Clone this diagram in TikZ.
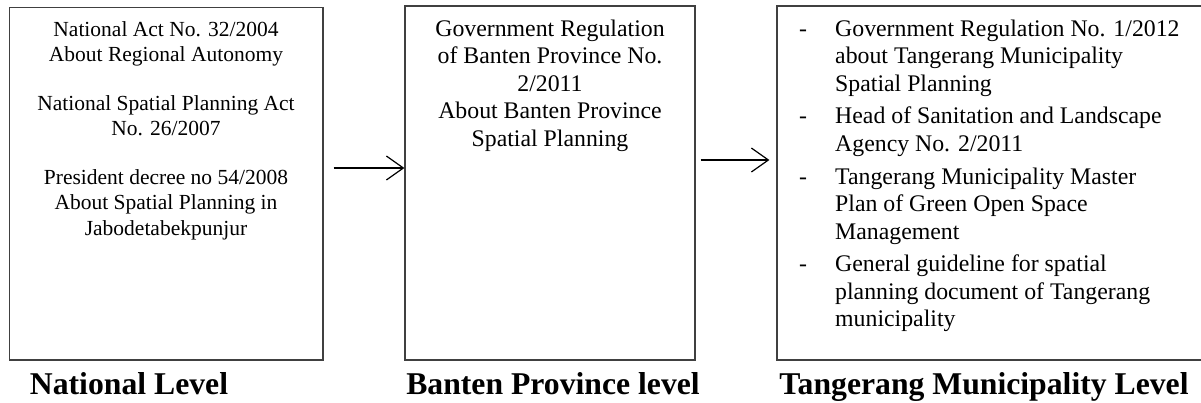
\documentclass[tikz,border=0pt]{standalone}
\usepackage{fontspec}
\setmainfont{Liberation Serif}
\usetikzlibrary{arrows.meta}
\begin{document}
\begin{tikzpicture}[x=1pt,y=1pt,
  levelbox/.style={draw=black!75, line width=1.2pt, inner sep=0pt, rectangle},
  boxtext/.style={inner sep=0pt, anchor=base},
  smalltext/.style={font=\fontsize{21.5}{25.7}\selectfont},
  bodytext/.style={font=\fontsize{23.8}{27.5}\selectfont},
  leveltitle/.style={inner sep=0pt, anchor=base, font=\fontsize{31.7}{36}\selectfont\bfseries},
  flow/.style={draw=black, line width=1.2pt, -{Straight Barb[length=17pt,width=24pt,line width=1.2pt]}}]
\useasboundingbox (0,0) rectangle (1201,-402);

% the three level boxes
\node[levelbox, minimum width=313.5pt, minimum height=352.5pt] (national) at (166.25,-183.75) {};
\node[levelbox, minimum width=290pt, minimum height=354pt] (province) at (550,-183) {};
\node[levelbox, minimum width=430pt, minimum height=354pt] (municipal) at (992,-183) {};

% national regulations
\node[boxtext, smalltext] (nattext) at (166,-36)
  {\begin{tabular}[t]{@{}c@{}}
   National Act No. 32/2004\\About Regional Autonomy\\[22.6pt]
   National Spatial Planning Act\\No. 26/2007\\[22.6pt]
   President decree no 54/2008\\About Spatial Planning in\\Jabodetabekpunjur
   \end{tabular}};

% provincial regulation
\node[boxtext, bodytext] (provtext) at (550,-36)
  {\begin{tabular}[t]{@{}c@{}}
   Government Regulation\\of Banten Province No.\\2/2011\\About Banten Province\\Spatial Planning
   \end{tabular}};

% municipal regulations
\node[inner sep=0pt, anchor=base west, bodytext] (munitext) at (799,-36)
  {\begin{tabular}[t]{@{}p{36pt}@{}l@{}}
   - & Government Regulation No. 1/2012\\
     & about Tangerang Municipality\\
     & Spatial Planning\\[5.3pt]
   - & Head of Sanitation and Landscape\\
     & Agency No. 2/2011\\[5.3pt]
   - & Tangerang Municipality Master\\
     & Plan of Green Open Space\\
     & Management\\[5.3pt]
   - & General guideline for spatial\\
     & planning document of Tangerang\\
     & municipality
   \end{tabular}};

% level titles
\node[leveltitle] (natlabel) at (129,-394) {National Level};
\node[leveltitle] (provlabel) at (553,-394) {Banten Province level};
\node[leveltitle] (munilabel) at (984,-394) {Tangerang Municipality Level};

% flow between the levels
\coordinate (flowa) at (0,-168);
\coordinate (flowb) at (0,-160);
\draw[flow, shorten <=10pt] (national.east |- flowa) -- (province.west |- flowa);
\draw[flow, shorten <=5pt, shorten >=7pt] (province.east |- flowb) -- (municipal.west |- flowb);
\end{tikzpicture}
\end{document}
